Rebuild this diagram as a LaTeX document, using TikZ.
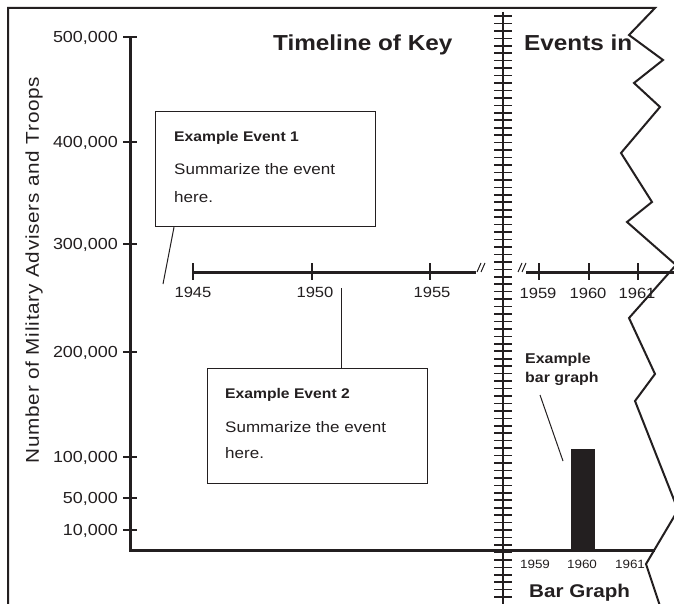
\documentclass[tikz,border=0pt]{standalone}
\usepackage{fontspec}
\setmainfont{Liberation Sans}[FakeStretch=1.12]
\usetikzlibrary{calc}
\definecolor{ink}{HTML}{231F20}
\begin{document}
\begin{tikzpicture}[x=1pt,y=-1pt,
  frame/.style={draw=ink,line width=2pt,line join=miter},
  axis/.style={draw=ink,line width=3pt},
  tickmark/.style={draw=ink,line width=2.6pt},
  spinetick/.style={draw=ink,line width=1.6pt},
  evbox/.style={draw=ink,line width=1.2pt,fill=white,rectangle,inner sep=0pt,anchor=north west},
  lead/.style={draw=ink,line width=1pt},
  numlbl/.style={text=ink,inner sep=0pt,anchor=base east,font=\fontsize{16}{18}\selectfont},
  yearlbl/.style={text=ink,inner sep=0pt,anchor=base,font=\fontsize{14.8}{17}\selectfont},
  smallyear/.style={text=ink,inner sep=0pt,anchor=base,font=\fontsize{12}{14}\selectfont},
  title/.style={text=ink,inner sep=0pt,anchor=base west,font=\fontsize{21.7}{24}\selectfont\bfseries},
  evhead/.style={text=ink,inner sep=0pt,anchor=base west,font=\fontsize{14}{16}\selectfont\bfseries},
  evbody/.style={text=ink,inner sep=0pt,anchor=base west,font=\fontsize{15.2}{17}\selectfont}
]
\useasboundingbox (0,0) rectangle (674,604);
\fill[white] (0,0) rectangle (674,604);
\begin{scope}
\clip (0,0) rectangle (674,604);
% outer frame with torn right edge
\draw[frame] (8,606) -- (8,8) -- (655,8) -- (629,35) -- (663,60) -- (634,83) -- (660,107)
  -- (621,153) -- (652,202) -- (627,222) -- (676,265) -- (629,318) -- (655,374)
  -- (635,401) -- (678,510) -- (646,564) -- (660,606);
% stitched spine
\draw[draw=ink,line width=2pt] (503,12) -- (503,604);
\foreach \k in {0,...,78} \draw[spinetick] (494,{16+7.45*\k}) -- (512,{16+7.45*\k});
% axes
\coordinate (ytop) at (130,37);
\coordinate (origin) at (130,550);
\coordinate (xend) at (655,550);
\draw[axis] (ytop) -- (origin) -- (xend);
\foreach \y in {37,142,244,352,457,498,530} \draw[tickmark] (123,\y) -- (137,\y);
\node[numlbl] (l500) at (118,42.5) {500,000};
\node[numlbl] (l400) at (118,147.5) {400,000};
\node[numlbl] (l300) at (118,249.5) {300,000};
\node[numlbl] (l200) at (118,357.5) {200,000};
\node[numlbl] (l100) at (118,462.5) {100,000};
\node[numlbl] (l50) at (118,503.5) {50,000};
\node[numlbl] (l10) at (118,535.5) {10,000};
\node[text=ink,inner sep=0pt,rotate=90,font=\fontsize{18.5}{20}\selectfont\addfontfeatures{LetterSpace=4}] (ylab) at (34,270) {Number of Military Advisers and Troops};
% titles
\node[title] (t1) at (273,51) {Timeline of Key};
\node[title] (t2) at (524,51) {Events in};
\node[title,font=\fontsize{18.4}{21}\selectfont\bfseries] (t3) at (529,597) {Bar Graph};
% left timeline
\draw[axis] (193,272) -- (476,272);
\foreach \x in {193,312,430} \draw[tickmark] (\x,263) -- (\x,280);
\draw[draw=ink,line width=1pt] (477,272) -- (481,263) (481,272) -- (485,263);
\node[yearlbl] (y45) at (193,297) {1945};
\node[yearlbl] (y50) at (315,297) {1950};
\node[yearlbl] (y55) at (432,297) {1955};
% right timeline
\draw[axis] (526,272) -- (676,272);
\draw[draw=ink,line width=1pt] (518,272) -- (522,263) (522,272) -- (526,263);
\foreach \x in {539,589,638} \draw[tickmark] (\x,263) -- (\x,280);
\node[yearlbl] (y59) at (538,298) {1959};
\node[yearlbl] (y60) at (588,298) {1960};
\node[yearlbl] (y61) at (637,298) {1961};
% event boxes
\node[evbox,minimum width=220pt,minimum height=115pt] (e1) at (155,111) {};
\node[evhead] (e1h) at (174,142) {Example Event 1};
\node[evbody] (e1b) at (174,175) {Summarize the event};
\node[evbody] (e1c) at (174,202) {here.};
\coordinate (c1) at (163,284);
\draw[lead] ($(e1.south west)+(19,0)$) -- (c1);
\node[evbox,minimum width=220pt,minimum height=115pt] (e2) at (207,368) {};
\node[evhead] (e2h) at (225,398) {Example Event 2};
\node[evbody] (e2b) at (225,432) {Summarize the event};
\node[evbody] (e2c) at (225,458) {here.};
\coordinate (c2) at (341,288);
\draw[lead] (c2) -- ($(e2.north west)+(134,0)$);
% bar graph
\node[fill=ink,inner sep=0pt,minimum width=24pt,minimum height=101pt,anchor=north west] (bar) at (571,449) {};
\node[evhead,font=\fontsize{14.2}{16}\selectfont\bfseries] (bl1) at (525,363) {Example};
\node[evhead,font=\fontsize{14.2}{16}\selectfont\bfseries] (bl2) at (525,382) {bar graph};
\coordinate (c3) at (540,395);
\coordinate (c4) at (563,461);
\draw[lead] (c3) -- (c4);
\node[smallyear] (b59) at (535,568) {1959};
\node[smallyear] (b60) at (582,568) {1960};
\node[smallyear] (b61) at (630,568) {1961};
\end{scope}
\end{tikzpicture}
\end{document}
